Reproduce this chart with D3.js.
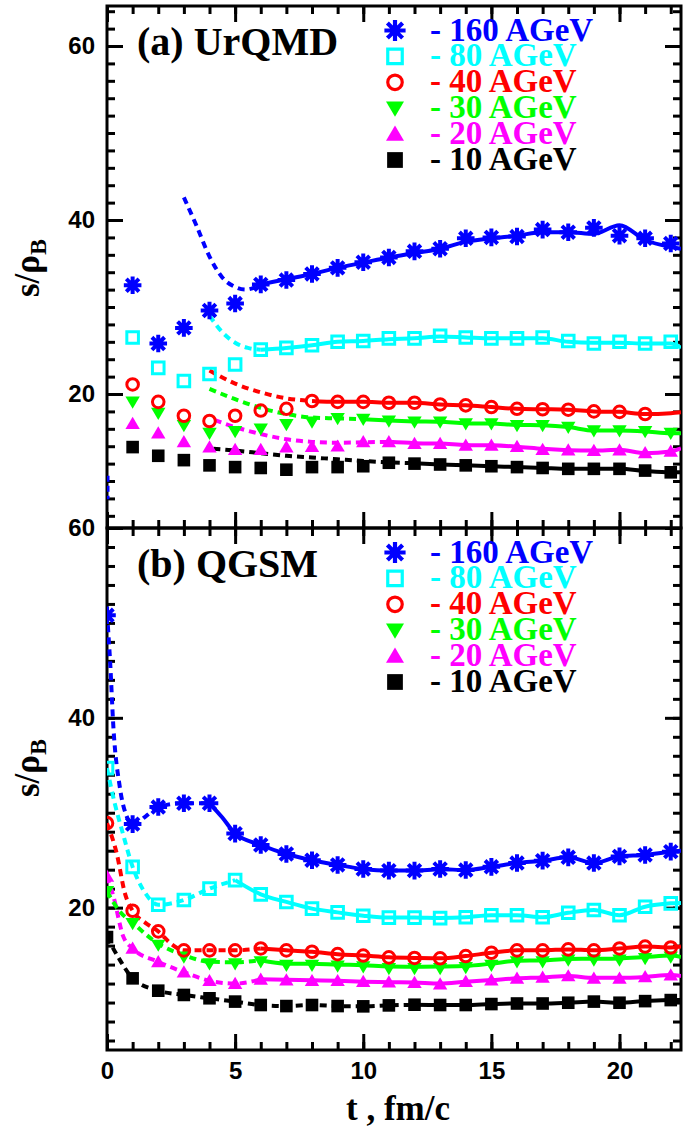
<!DOCTYPE html>
<html><head><meta charset="utf-8">
<script src="https://cdn.jsdelivr.net/npm/d3@7"></script>
<style>body{margin:0;background:#fff}</style>
</head><body><svg id="c" width="685" height="1129"></svg>
<script>
// ---------- data ----------
const legendLabels = ["- 160 AGeV","- 80 AGeV","- 40 AGeV","- 30 AGeV","- 20 AGeV","- 10 AGeV"];
const xTickMajor = [0,5,10,15,20];
const yTickMajor = [20,40,60];

// Panel (a) UrQMD: markers at t = 1..22
const tA = [1,2,3,4,5,6,7,8,9,10,11,12,13,14,15,16,17,18,19,20,21,22];
const a160 = [32.5,25.8,27.6,29.6,30.4,32.6,33.1,33.8,34.5,35.15,35.7,36.4,36.7,37.9,38.0,38.1,38.9,38.6,39.1,38.2,37.9,37.3];
const a80  = [26.5,23.0,21.5,22.3,23.4,25.1,25.3,25.6,26.0,26.1,26.4,26.4,26.7,26.5,26.4,26.4,26.5,26.1,25.8,26.0,25.8,26.0];
const a40  = [21.1,19.1,17.5,16.9,17.5,18.1,18.3,19.2,19.1,19.1,19.0,19.0,18.8,18.7,18.5,18.3,18.25,18.2,18.0,17.95,17.7];
const a30  = [19.1,17.8,16.4,15.5,15.7,16.0,16.5,16.8,17.2,17.1,16.9,16.8,16.8,16.6,16.6,16.4,16.4,16.2,15.8,15.8,15.7,15.5];
const a20  = [16.6,15.5,14.5,13.9,13.6,13.6,13.9,13.95,14.0,14.5,14.5,14.3,14.3,14.1,14.1,13.95,13.6,13.55,13.5,13.55,13.25,13.4];
const a10  = [13.9,12.9,12.4,11.8,11.6,11.5,11.3,11.6,11.6,11.7,12.1,12.0,11.9,11.8,11.7,11.6,11.5,11.4,11.4,11.4,11.2,11.0];

// Panel (a) curves: [t, value]
const aStub160  = [[0.04,10.6],[0.04,7.9]];
const aDash160  = [[3.0,42.6],[3.5,39.3],[4.0,35.8],[4.5,33.4],[5.0,32.3],[5.4,32.0],[6.0,32.6]];
const aSolid160 = [[6,32.6],[7,33.2],[8,33.8],[9,34.5],[10,35.1],[11,35.7],[12,36.2],[13,36.7],[14,37.5],[15,37.9],[16,38.2],[17,38.6],[18,38.6],[19,38.4],[20,39.4],[21,37.7],[22,36.9],[22.4,36.7]];
const aDash80   = [[4,29.0],[4.5,27.1],[5,25.9],[5.5,25.3],[6,25.1]];
const aSolid80  = [[6,25.1],[7,25.3],[8,25.6],[9,26.0],[10,26.1],[11,26.3],[12,26.4],[13,26.6],[14,26.5],[15,26.4],[16,26.4],[17,26.4],[18,26.0],[19,25.9],[20,25.9],[21,25.8],[22,25.8],[22.4,25.3]];
const aDash40   = [[4,22.7],[5,21.2],[6,20.2],[7,19.5],[8,19.2]];
const aSolid40  = [[8,19.2],[9,19.1],[10,19.1],[11,19.0],[12,19.0],[13,18.8],[14,18.7],[15,18.5],[16,18.3],[17,18.25],[18,18.2],[19,18.0],[20,17.95],[21,17.7],[22,17.8],[22.4,17.9]];
const aDash30   = [[4,20.6],[5,19.4],[6,18.4],[7,17.7],[8,17.3],[9,17.2],[10,17.1]];
const aSolid30  = [[10,17.1],[11,16.95],[12,16.85],[13,16.8],[14,16.65],[15,16.6],[16,16.45],[17,16.4],[18,16.2],[19,15.8],[20,15.8],[21,15.7],[22,15.5],[22.4,15.5]];
const aDash20   = [[4.2,17.0],[5,16.2],[6,15.4],[7,14.8],[8,14.5],[9,14.4],[10,14.45],[11,14.5]];
const aSolid20  = [[11,14.5],[12,14.35],[13,14.3],[14,14.15],[15,14.1],[16,13.95],[17,13.7],[18,13.55],[19,13.5],[20,13.6],[21,13.2],[22,13.4],[22.4,13.75]];
const aDash10   = [[4.15,13.7],[5,13.5],[6,13.2],[7,12.9],[8,12.7],[9,12.5],[10,12.3],[11,12.15],[12,12.05]];
const aSolid10  = [[12,12.05],[13,11.9],[14,11.8],[15,11.7],[16,11.6],[17,11.5],[18,11.4],[19,11.4],[20,11.4],[21,11.15],[22,11.0],[22.4,11.0]];

// Panel (b) QGSM: markers at t = 0..22
const tB = [0,1,2,3,4,5,6,7,8,9,10,11,12,13,14,15,16,17,18,19,20,21,22];
const b160 = [50.8,28.8,30.6,31.0,31.0,27.8,26.6,25.65,25.0,24.5,24.07,23.9,23.9,24.07,23.96,24.3,24.7,24.95,25.3,24.7,25.4,25.55,25.9];
const b80  = [34.7,24.3,20.3,20.8,22.0,22.9,21.4,20.6,19.9,19.5,19.15,18.95,18.95,18.9,18.98,19.2,19.2,18.98,19.46,19.75,19.2,20.1,20.45];
const b40  = [28.9,19.67,17.5,15.5,15.5,15.5,15.7,15.5,15.35,15.1,14.95,14.76,14.7,14.66,14.9,15.25,15.5,15.5,15.6,15.5,15.7,15.9,15.8];
const b30  = [21.7,18.35,16.06,14.8,14.1,14.1,14.3,13.95,13.95,13.85,13.78,13.6,13.6,13.6,13.7,13.95,14.3,14.3,14.5,14.5,14.5,14.66,14.8];
const b20  = [23.3,15.7,14.3,13.2,12.3,12.0,12.45,12.37,12.3,12.3,12.2,12.15,12.1,11.95,12.2,12.37,12.55,12.65,12.8,12.55,12.55,12.7,12.9];
const b10  = [16.9,12.55,11.25,10.8,10.45,10.1,9.74,9.63,9.74,9.63,9.6,9.7,9.77,9.74,9.74,9.84,9.9,9.9,9.98,10.1,9.98,10.15,10.26];

const bDash160  = [[0,51],[0.12,46],[0.25,39],[0.5,32.7],[0.77,29.6],[1,28.7],[1.5,29.6],[2,30.6],[3,31.0],[4,31.0]];
const bSolid160 = [[4,31.0],[4.5,29.5],[5,27.8],[6,26.6],[7,25.65],[8,25.0],[9,24.5],[10,24.07],[11,23.9],[12,23.9],[13,24.05],[14,23.96],[15,24.3],[16,24.7],[17,24.95],[18,25.3],[19,24.7],[20,25.4],[21,25.55],[22,25.9],[22.4,26.0]];
const bDash80   = [[0,34.7],[0.3,31.0],[0.6,28.0],[1,24.3],[1.5,21.5],[2,20.3],[3,20.8],[4,22.0],[5,22.9]];
const bSolid80  = [[5,22.9],[6,21.4],[7,20.6],[8,19.9],[9,19.5],[10,19.15],[11,18.95],[12,18.95],[13,18.9],[14,18.98],[15,19.2],[16,19.2],[17,18.98],[18,19.46],[19,19.75],[20,19.2],[21,20.1],[22,20.45],[22.4,20.5]];
const bDash40   = [[0,28.9],[0.38,25.7],[0.7,21.5],[1,19.67],[1.5,18.4],[2,17.5],[2.5,16.2],[3,15.5],[4,15.5],[5,15.5],[6,15.7]];
const bSolid40  = [[6,15.7],[7,15.5],[8,15.35],[9,15.1],[10,14.95],[11,14.76],[12,14.7],[13,14.66],[14,14.9],[15,15.25],[16,15.5],[17,15.5],[18,15.6],[19,15.5],[20,15.7],[21,15.9],[22,15.8],[22.4,15.9]];
const bDash30   = [[0,21.7],[0.5,19.6],[1,18.4],[2,16.2],[3,15.0],[4,14.3],[5,14.25],[6,14.45]];
const bSolid30  = [[6,14.45],[7,14.1],[8,14.1],[9,14.0],[10,13.93],[11,13.8],[12,13.78],[13,13.8],[14,13.85],[15,14.1],[16,14.4],[17,14.45],[18,14.6],[19,14.62],[20,14.65],[21,14.8],[22,14.95],[22.4,14.8]];
const bDash20   = [[0,23.3],[0.25,21.2],[0.63,17.0],[1,15.7],[2,14.3],[3,13.2],[4,12.3],[5,12.0],[6,12.45]];
const bSolid20  = [[6,12.45],[7,12.4],[8,12.35],[9,12.3],[10,12.2],[11,12.15],[12,12.1],[13,12.0],[14,12.2],[15,12.37],[16,12.55],[17,12.65],[18,12.8],[19,12.6],[20,12.6],[21,12.7],[22,12.9],[22.4,12.8]];
const bDash10   = [[0,16.9],[0.5,14.5],[1,12.55],[2,11.25],[3,10.8],[4,10.45],[5,10.1],[6,9.74],[7,9.63],[8,9.74],[9,9.63],[10,9.6],[11,9.7],[12,9.77]];
const bSolid10  = [[12,9.77],[13,9.74],[14,9.74],[15,9.84],[16,9.9],[17,9.9],[18,9.98],[19,10.1],[20,9.98],[21,10.15],[22,10.26],[22.4,10.26]];

// ---------- styles ----------
const colors  = ["#0000ff","#00ffff","#ff0000","#00ff00","#ff00ff","#000000"];
const markers = ["star","square","circle","tdown","tup","fsquare"];

const serif = "'Liberation Serif','Times New Roman',serif";
const sans  = "'Liberation Sans',Arial,sans-serif";

const svg = d3.select("#c");
const L = 107, R = 681;
const x = d3.scaleLinear().domain([0,22.4]).range([L,R]);

const panels = [
  {id:"a", title:"(a) UrQMD", top:6, bottom:528, y:d3.scaleLinear().domain([4.6,64.6]).range([528,6]),
   yMinor:d3.range(6,65,2), t:tA,
   vals:[a160,a80,a40,a30,a20,a10],
   dash:[aDash160,aDash80,aDash40,aDash30,aDash20,aDash10],
   solid:[aSolid160,aSolid80,aSolid40,aSolid30,aSolid20,aSolid10],
   extra:[aStub160], xLabels:false, yTitle:268},
  {id:"b", title:"(b) QGSM", top:528, bottom:1050, y:d3.scaleLinear().domain([5,60]).range([1050,528]),
   yMinor:d3.range(6,60,2), t:tB,
   vals:[b160,b80,b40,b30,b20,b10],
   dash:[bDash160,bDash80,bDash40,bDash30,bDash20,bDash10],
   solid:[bSolid160,bSolid80,bSolid40,bSolid30,bSolid20,bSolid10],
   extra:[], xLabels:true, yTitle:768}
];

function markerPath(type, s){
  switch(type){
    case "star": { const k=s*0.72; return `M${-s},0L${s},0M0,${-s}L0,${s}M${-k},${-k}L${k},${k}M${-k},${k}L${k},${-k}`; }
    case "square": case "fsquare": return `M${-s},${-s}H${s}V${s}H${-s}Z`;
    case "circle": return `M${s},0A${s},${s} 0 1 1 ${-s},0A${s},${s} 0 1 1 ${s},0Z`;
    case "tdown": return `M${-s},${-s*0.75}H${s}L0,${s*0.95}Z`;
    case "tup": return `M${-s},${s*0.75}H${s}L0,${-s*0.95}Z`;
  }
}
const markerSize = {star:6.8, square:5.8, circle:5.8, tdown:7.2, tup:7.2, fsquare:6.3};
function styleMarker(sel, type, color, sw){
  if(type==="star") sel.attr("fill","none").attr("stroke",color).attr("stroke-width",sw+1).attr("stroke-linecap","square");
  else if(type==="square"||type==="circle") sel.attr("fill","none").attr("stroke",color).attr("stroke-width",sw);
  else sel.attr("fill",color).attr("stroke","none");
}

const minorX = d3.range(0,23,1);

panels.forEach(p=>{
  const g = svg.append("g");
  const y = p.y;
  svg.append("clipPath").attr("id","clip"+p.id).append("rect")
    .attr("x",L).attr("y",p.top).attr("width",R-L).attr("height",p.bottom-p.top);

  function styleAxis(ax){
    ax.select(".domain").remove();
    ax.selectAll(".tick line").attr("stroke","#000").attr("stroke-width",3);
    ax.selectAll("text").attr("font-family",sans).attr("font-weight","bold").attr("font-size",24).attr("fill","#000");
  }
  [[d3.axisBottom, p.bottom],[d3.axisTop, p.top]].forEach(([fn,yy])=>{
    g.append("g").attr("transform",`translate(0,${yy})`)
      .call(fn(x).tickValues(minorX).tickSize(-8).tickSizeOuter(0).tickFormat("")).call(styleAxis);
    const showLab = (fn===d3.axisBottom && p.xLabels);
    g.append("g").attr("transform",`translate(0,${yy})`)
      .call(fn(x).tickValues(xTickMajor).tickSize(-16).tickSizeOuter(0).tickPadding(12)
            .tickFormat(showLab ? d3.format("d") : "")).call(styleAxis);
  });
  [[d3.axisLeft, L],[d3.axisRight, R]].forEach(([fn,xx])=>{
    g.append("g").attr("transform",`translate(${xx},0)`)
      .call(fn(y).tickValues(p.yMinor).tickSize(-8).tickSizeOuter(0).tickFormat("")).call(styleAxis);
    g.append("g").attr("transform",`translate(${xx},0)`)
      .call(fn(y).tickValues(yTickMajor).tickSize(-16).tickSizeOuter(0).tickPadding(12)
            .tickFormat(fn===d3.axisLeft ? d3.format("d") : "")).call(styleAxis);
  });
  g.append("rect").attr("x",L).attr("y",p.top).attr("width",R-L).attr("height",p.bottom-p.top)
    .attr("fill","none").attr("stroke","#000").attr("stroke-width",3);

  const dg = svg.append("g").attr("clip-path",`url(#clip${p.id})`);
  const line = d3.line().x(d=>x(d[0])).y(d=>y(d[1])).curve(d3.curveMonotoneX);
  p.extra.forEach(arr=>{
    dg.append("path").attr("d",d3.line().x(d=>x(d[0])).y(d=>y(d[1]))(arr))
      .attr("fill","none").attr("stroke",colors[0]).attr("stroke-width",3).attr("stroke-dasharray","6,4");
  });
  for(let i=5;i>=0;i--){
    dg.append("path").attr("d",line(p.dash[i])).attr("fill","none").attr("stroke",colors[i])
      .attr("stroke-width",4).attr("stroke-dasharray","7,5");
    dg.append("path").attr("d",line(p.solid[i])).attr("fill","none").attr("stroke",colors[i])
      .attr("stroke-width",4);
  }
  for(let i=5;i>=0;i--){
    const pts = p.vals[i].map((v,k)=>[p.t[k],v]);
    dg.selectAll(null).data(pts).enter().append("path")
      .attr("transform",d=>`translate(${x(d[0])},${y(d[1])})`)
      .attr("d",markerPath(markers[i],markerSize[markers[i]]))
      .call(s=>styleMarker(s,markers[i],colors[i],3));
  }

  svg.append("text").attr("x",137).attr("y",p.top+49).text(p.title)
    .attr("font-family",serif).attr("font-weight","bold").attr("font-size",40).attr("fill","#000");

  legendLabels.forEach((lab,i)=>{
    const ry = p.top + 24.5 + i*25.9;
    svg.append("path").attr("transform",`translate(395,${ry})`)
      .attr("d",markerPath(markers[i],markerSize[markers[i]]*1.25))
      .call(s=>styleMarker(s,markers[i],colors[i],3.2));
    svg.append("text").attr("x",430).attr("y",ry+10).text(lab)
      .attr("font-family",serif).attr("font-weight","bold").attr("font-size",33).attr("fill",colors[i]);
  });

  const yt = svg.append("text").attr("transform",`translate(39,${p.yTitle}) rotate(-90)`)
    .attr("text-anchor","middle").attr("font-family",serif).attr("font-weight","bold")
    .attr("font-size",35).attr("fill","#000");
  yt.append("tspan").text("s/ρ");
  yt.append("tspan").attr("dy","0.3em").attr("font-size",24).text("B");
});

svg.append("text").attr("x",398).attr("y",1120).attr("text-anchor","middle")
  .attr("font-family",serif).attr("font-weight","bold").attr("font-size",35).text("t , fm/c");
</script>
</body></html>
